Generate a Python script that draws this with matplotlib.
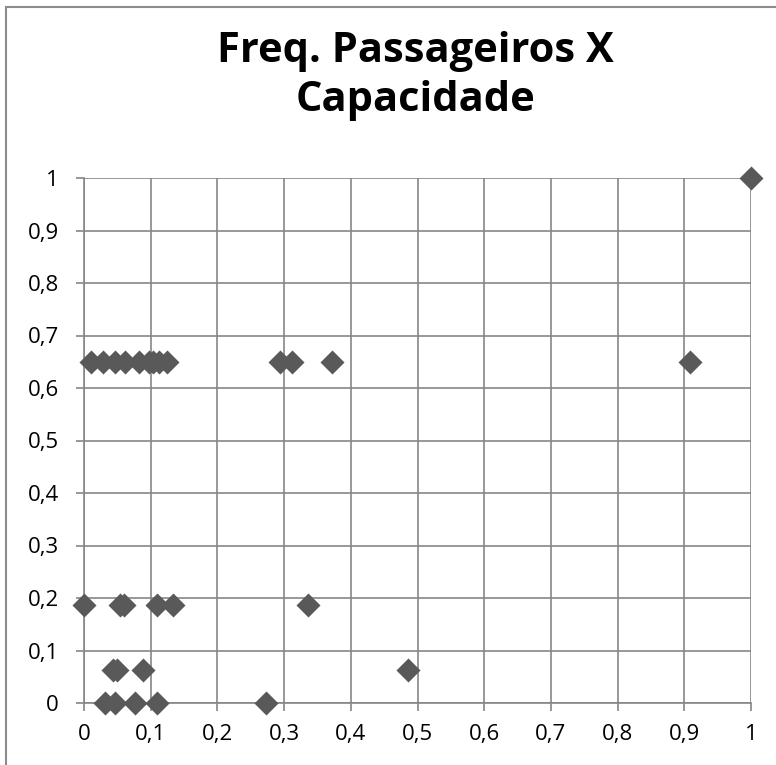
import matplotlib
matplotlib.use("Agg")
import matplotlib.pyplot as plt
from matplotlib.patches import Rectangle

# dados
freq_065 = [0.010, 0.028, 0.046, 0.062, 0.082, 0.098, 0.104, 0.112, 0.125, 0.294, 0.312, 0.372, 0.909]
freq_019 = [0.0, 0.054, 0.060, 0.109, 0.134, 0.336]
freq_006 = [0.043, 0.050, 0.088, 0.486]
freq_000 = [0.032, 0.047, 0.077, 0.110, 0.273]
freq_100 = [1.0]

capacidade = [0.65, 0.1875, 0.0625, 0.0, 1.0]
grupos = [freq_065, freq_019, freq_006, freq_000, freq_100]

xs = []
ys = []
for grupo, cap in zip(grupos, capacidade):
    for f in grupo:
        xs.append(f)
        ys.append(cap)

ticks = [i / 10 for i in range(11)]
tick_labels = ["0"] + ["0," + str(i) for i in range(1, 10)] + ["1"]

plt.rcParams['font.family'] = ['Open Sans', 'DejaVu Sans']

W, H = 776, 765
fig = plt.figure(figsize=(W / 100, H / 100), dpi=100)

# borda externa do grafico
fig.patches.append(Rectangle((6 / W, -0.1), 1.2, 1 + 0.1 - 7 / H, transform=fig.transFigure,
                             fill=False, edgecolor='#8c8c8c', linewidth=1.5))

ax = fig.add_axes([84 / W, 1 - 703 / H, (751 - 84) / W, (703 - 178) / H])
ax.scatter(xs, ys, marker='D', s=150, color='#595959', zorder=3, clip_on=False, linewidths=0)

ax.set_xlim(0, 1)
ax.set_ylim(0, 1)
ax.set_xticks(ticks)
ax.set_yticks(ticks)
ax.set_xticklabels(tick_labels, fontsize=16)
ax.set_yticklabels(tick_labels, fontsize=16)
ax.tick_params(color='#868686', length=6, width=1.2)
ax.tick_params(axis='y', pad=12)
ax.tick_params(axis='x', pad=9)
ax.grid(True, color='#868686', linewidth=1.2)
ax.set_axisbelow(True)
for s in ['top', 'right']:
    ax.spines[s].set_visible(False)
for s in ['left', 'bottom']:
    ax.spines[s].set_color('#868686')
    ax.spines[s].set_linewidth(1.2)

fig.text(415 / W, 1 - 76 / H, "Freq. Passageiros X\nCapacidade", ha='center', va='center',
         fontsize=30, fontweight='bold', linespacing=1.28)

fig.savefig("out.png", dpi=100)
